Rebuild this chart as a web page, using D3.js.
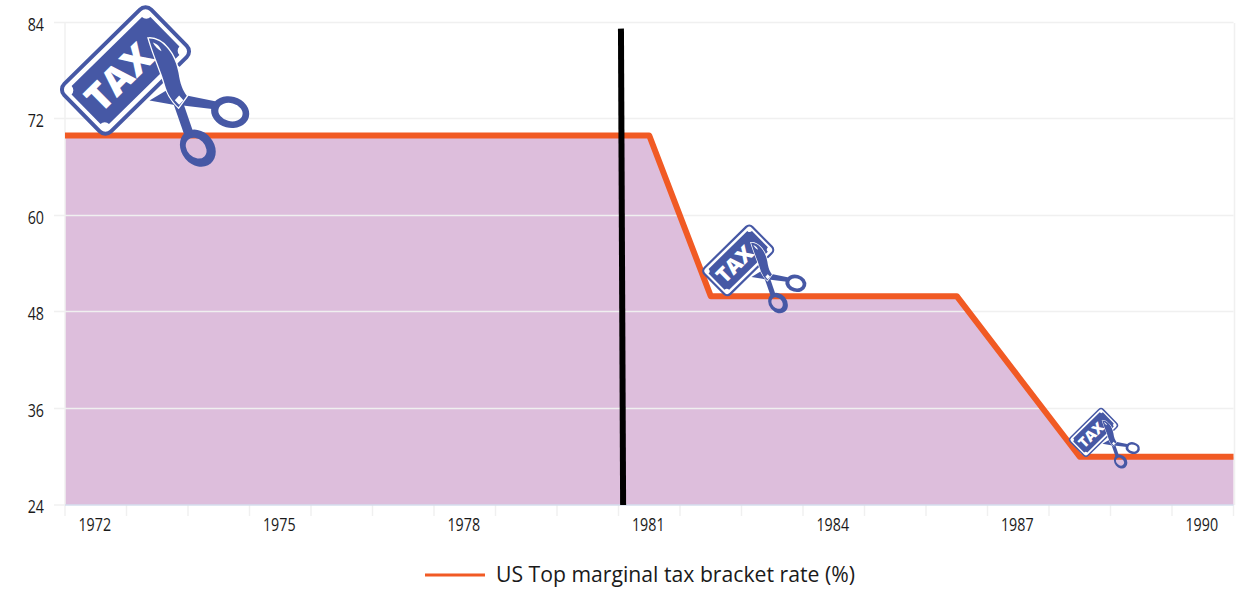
<!DOCTYPE html>
<html>
<head>
<meta charset="utf-8">
<script src="https://cdn.jsdelivr.net/npm/d3@7"></script>
<style>
  html, body { margin: 0; padding: 0; background: #fff; }
  svg { display: block; }
  .tick-label { font-family: "Open Sans", sans-serif; font-size: 19px; fill: #1a1a1a; }
  .legend-label { font-family: "Open Sans", sans-serif; font-size: 21.2px; fill: #1a1a1a; }
</style>
</head>
<body>
<svg id="chart" width="1248" height="589"></svg>
<script>
// US top marginal income tax rate by year
const years = [1972, 1973, 1974, 1975, 1976, 1977, 1978, 1979, 1980, 1981, 1982, 1983, 1984, 1985, 1986, 1987, 1988, 1989, 1990];
const rates = [70, 70, 70, 70, 70, 70, 70, 70, 70, 70, 50, 50, 50, 50, 50, 40, 30, 30, 30];
const yTicks = [24, 36, 48, 60, 72, 84];
const labelledYears = [1972, 1975, 1978, 1981, 1984, 1987, 1990];
const seriesName = "US Top marginal tax bracket rate (%)";

// Divider marking the start of the period, given as [year, rate] ends
const dividerEnds = [[1980.54, 83.3], [1980.575, 24]];

// Scissors-and-ticket badges resting on the line
const badgeYears = [1972.18, 1982.28, 1988.11];
const badgeRates = [70, 50, 30];
const badgeSizes = [1, 0.55, 0.375];

const purple = "#ddbedc", orange = "#f15a24", blue = "#4658a5";
const gridColor = "#f0f0f0", axisColor = "#d5deee";

const svg = d3.select("#chart");
const x = d3.scaleLinear().domain([1971.5, 1990.5]).range([65, 1233.5]);
const y = d3.scaleLinear().domain([24, 84]).range([505, 23]);

// Extend the first and last values out to the plot edges
const pts = [[x.domain()[0], rates[0]], ...years.map((d, i) => [d, rates[i]]), [x.domain()[1], rates[rates.length - 1]]];

svg.append("path")
  .attr("d", d3.area().x(d => x(d[0])).y0(y(24)).y1(d => y(d[1]))(pts))
  .attr("fill", purple);

// Horizontal grid lines, pale enough to read as white over the area
const grid = svg.append("g");
grid.selectAll("line").data(yTicks.slice(1)).join("line")
  .attr("x1", x.range()[0] - 11).attr("x2", x.range()[1])
  .attr("y1", d => Math.round(y(d)) - 0.5).attr("y2", d => Math.round(y(d)) - 0.5)
  .attr("stroke", gridColor).attr("stroke-width", 1.5);
svg.append("line")
  .attr("x1", x.range()[0] - 11).attr("x2", x.range()[0])
  .attr("y1", y(24)).attr("y2", y(24)).attr("stroke", gridColor).attr("stroke-width", 1.5);
svg.append("line")
  .attr("x1", x.range()[0]).attr("x2", x.range()[0])
  .attr("y1", y(84)).attr("y2", y(24)).attr("stroke", gridColor).attr("stroke-width", 1.5);
svg.append("line")
  .attr("x1", x.range()[1] + 1).attr("x2", x.range()[1] + 1)
  .attr("y1", y(84)).attr("y2", y(24)).attr("stroke", gridColor).attr("stroke-width", 1.5);

// X axis: a tick at every year boundary, a label every third year
const tickEdges = d3.range(x.domain()[0], x.domain()[1] + 1);
svg.append("g").selectAll("line").data(tickEdges).join("line")
  .attr("x1", d => x(d)).attr("x2", d => x(d))
  .attr("y1", y(24)).attr("y2", y(24) + 11)
  .attr("stroke", gridColor).attr("stroke-width", 1.5);
svg.append("line")
  .attr("x1", x.range()[0]).attr("x2", x.range()[1])
  .attr("y1", y(24)).attr("y2", y(24))
  .attr("stroke", axisColor).attr("stroke-width", 1.5);

// Tick labels are set in a condensed width
const condensed = 0.75;
svg.append("g").selectAll("text").data(labelledYears).join("text")
  .attr("class", "tick-label")
  .attr("transform", d => `translate(${x(d) - 1},${y(24) + 26}) scale(${condensed},1)`)
  .attr("text-anchor", "middle")
  .text(d => d);

svg.append("g").selectAll("text").data(yTicks).join("text")
  .attr("class", "tick-label")
  .attr("transform", d => `translate(${x.range()[0] - 21},${y(d) + 8}) scale(${condensed},1)`)
  .attr("text-anchor", "end")
  .text(d => d);

svg.append("path")
  .attr("d", d3.line().x(d => x(d[0])).y(d => y(d[1]))(pts))
  .attr("fill", "none").attr("stroke", orange).attr("stroke-width", 6).attr("stroke-linejoin", "round");

svg.append("path")
  .attr("d", d3.line().x(d => x(d[0])).y(d => y(d[1]))(dividerEnds))
  .attr("fill", "none").attr("stroke", "#000").attr("stroke-width", 6);

// Legend
const legend = svg.append("g");
legend.append("line").attr("x1", 425).attr("x2", 485).attr("y1", 575).attr("y2", 575)
  .attr("stroke", orange).attr("stroke-width", 3);
legend.append("text").attr("class", "legend-label").attr("x", 496).attr("y", 582).text(seriesName);

// Closed ellipse as a path segment, for the scissor finger rings
function ellipse(cx, cy, rx, ry, rot) {
  const a = rot * Math.PI / 180, dx = rx * Math.cos(a), dy = rx * Math.sin(a);
  return `M${cx - dx},${cy - dy} A${rx},${ry} ${rot} 1 0 ${cx + dx},${cy + dy} A${rx},${ry} ${rot} 1 0 ${cx - dx},${cy - dy} Z `;
}

// Badge artwork, authored at three times final size with its origin
// at the ticket's lowest corner
function drawBadge(g) {
  const art = g.append("g").attr("transform", "scale(0.3333) translate(-170,-403)");

  const ticket = art.append("g").attr("transform", "translate(226,208) rotate(-44.5)");
  ticket.append("rect").attr("x", -183).attr("y", -100).attr("width", 366).attr("height", 200)
    .attr("rx", 24).attr("fill", "#fff").attr("stroke", blue).attr("stroke-width", 12);
  ticket.append("path")
    .attr("d", "M-148,-80 H148 A18,18 0 0 0 166,-62 V62 A18,18 0 0 0 148,80 H-148 A18,18 0 0 0 -166,62 V-62 A18,18 0 0 0 -148,-80 Z")
    .attr("fill", blue);
  ticket.append("text").attr("x", -28).attr("y", 41).attr("text-anchor", "middle")
    .attr("font-family", "Open Sans, sans-serif").attr("font-weight", 800).attr("font-size", 114)
    .attr("fill", "#fff").text("TAX");

  // Clear the part of the ticket that the open blade has passed through
  art.append("path").attr("d", "M382,193 L450,235 L385,305 L345,265 Z").attr("fill", "#fff");

  // Lower blade stub, behind the main blade
  art.append("path").attr("d", "M298,298 L352,266 L384,283 L378,312 Z").attr("fill", blue);

  // Handles with open finger rings
  art.append("path").attr("fill", blue).attr("d", "M395,280 L495,300 L492,324 L392,312 Z");
  art.append("path").attr("fill", blue).attr("fill-rule", "evenodd").attr("d",
    ellipse(540, 333, 58, 47, 15) + ellipse(541, 333, 37, 27, 15));
  art.append("path").attr("fill", blue).attr("d", "M370,308 L402,400 L430,395 L398,302 Z");
  art.append("path").attr("fill", blue).attr("fill-rule", "evenodd").attr("d",
    ellipse(443, 441, 60, 49, 50) + ellipse(438, 441, 35, 27, 45));

  // Main blade with a white edge separating it from the ticket
  art.append("path")
    .attr("d", "M296,112 C338,110 376,160 385,215 C390,250 398,268 410,284 L385,318 C366,300 352,280 344,250 C335,215 313,170 296,112 Z")
    .attr("fill", blue).attr("stroke", "#fff").attr("stroke-width", 8).attr("paint-order", "stroke");
  art.append("path").attr("d", "M308,124 C320,127 330,137 334,150 C324,146 314,136 308,124 Z").attr("fill", "#fff");

  // Pivot
  art.append("path").attr("d", "M387,283 L400,297 L387,311 L374,297 Z").attr("fill", "#fff");
}

badgeYears.forEach((yr, i) => {
  const g = svg.append("g")
    .attr("transform", `translate(${x(yr)},${y(badgeRates[i])}) scale(${badgeSizes[i]})`);
  drawBadge(g);
});
</script>
</body>
</html>
